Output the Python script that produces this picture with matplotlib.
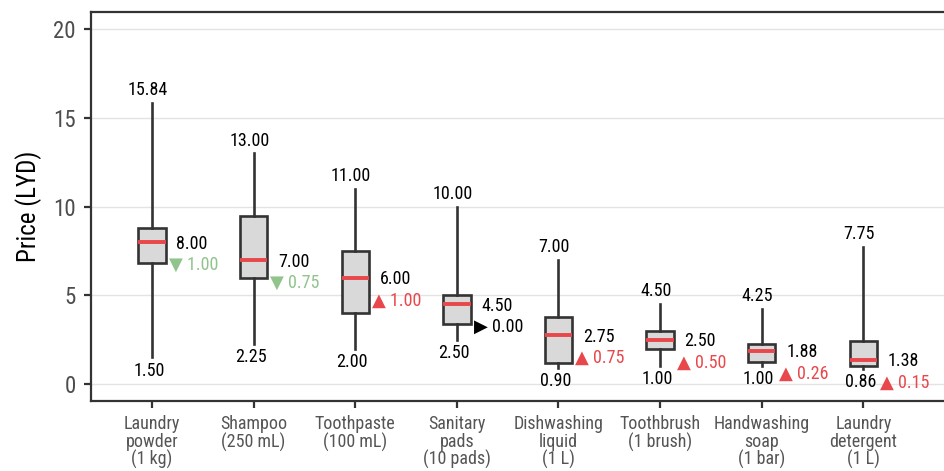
#!/usr/bin/env python3

import matplotlib
matplotlib.use("Agg")
import matplotlib.pyplot as plt


# Daten der Boxplots (Preise in LYD)
categories = ["Laundry\npowder\n(1 kg)", "Shampoo\n(250 mL)", "Toothpaste\n(100 mL)",
              "Sanitary\npads\n(10 pads)", "Dishwashing\nliquid\n(1 L)", "Toothbrush\n(1 brush)",
              "Handwashing\nsoap\n(1 bar)", "Laundry\ndetergent\n(1 L)"]
whisker_low = [1.50, 2.25, 2.00, 2.50, 0.90, 1.00, 1.00, 0.86]
q1 = [6.85, 6.00, 4.00, 3.40, 1.20, 2.00, 1.25, 1.00]
medians = [8.00, 7.00, 6.00, 4.50, 2.75, 2.50, 1.88, 1.38]
q3 = [8.80, 9.50, 7.50, 5.00, 3.80, 3.00, 2.25, 2.45]
whisker_high = [15.84, 13.00, 11.00, 10.00, 7.00, 4.50, 4.25, 7.75]
change = [1.00, 0.75, 1.00, 0.00, 0.75, 0.50, 0.26, 0.15]
direction = ["down", "down", "up", "flat", "up", "up", "up", "up"]

y_ticks = [0, 5, 10, 15, 20]

# Farben / Schrift
RED = "#E8474B"
GREEN = "#90C48C"
FONT = ["Roboto Condensed", "Roboto", "DejaVu Sans"]
plt.rcParams["font.family"] = FONT

arrow_style = {"down": ("\u25BC", GREEN), "up": ("\u25B2", RED), "flat": ("\u25B6", "black")}


fig = plt.figure(figsize=(9.44, 4.71), dpi=100)
ax = fig.add_axes([91 / 944, 70 / 471, (965 - 91) / 944, 389 / 471])

positions = list(range(1, len(categories) + 1))
stats = []
for i in range(len(categories)):
    stats.append({"med": medians[i], "q1": q1[i], "q3": q3[i],
                  "whislo": whisker_low[i], "whishi": whisker_high[i], "fliers": []})

ax.bxp(stats, positions=positions, widths=0.27, showcaps=False, showfliers=False,
       patch_artist=True,
       boxprops=dict(facecolor="#D9D9D9", edgecolor="#333333", linewidth=1.9),
       whiskerprops=dict(color="#333333", linewidth=1.9),
       medianprops=dict(color=RED, linewidth=2.8, solid_capstyle="butt"),
       zorder=3)

# Beschriftungen an den Boxen
for i, x in enumerate(positions):
    ax.text(x - 0.04, whisker_high[i] + 0.72, f"{whisker_high[i]:.2f}", ha="center", va="center",
            fontsize=13, color="black")
    ax.text(x - 0.03, whisker_low[i] - 0.74, f"{whisker_low[i]:.2f}", ha="center", va="center",
            fontsize=13, color="black")
    ax.text(x + 0.24, medians[i] - 0.1, f"{medians[i]:.2f}", ha="left", va="center",
            fontsize=13, color="black")
    sym, col = arrow_style[direction[i]]
    ax.text(x + 0.165, medians[i] - 1.3, f"{sym} {change[i]:.2f}", ha="left", va="center",
            fontsize=13, color=col, family=FONT)

ax.set_xlim(0.4, 9.0)
ax.set_ylim(-0.96, 20.98)
ax.set_xticks(positions)
ax.set_xticklabels(categories, fontsize=13, color="#555555", linespacing=0.98)
ax.set_yticks(y_ticks)
ax.set_yticklabels([str(t) for t in y_ticks], fontsize=16.5, color="#4D4D4D")
ax.set_ylabel("Price (LYD)", fontsize=18, color="black", labelpad=8)

ax.grid(axis="y", color="#E3E3E3", linewidth=1.0, zorder=0)
ax.set_axisbelow(True)
ax.tick_params(axis="both", length=5, width=1.6, color="#333333")
ax.tick_params(axis="y", pad=6)
ax.tick_params(axis="x", pad=5)
for side in ["left", "bottom", "top", "right"]:
    ax.spines[side].set_color("#333333")
    ax.spines[side].set_linewidth(1.6)

fig.savefig("out.png", dpi=100)
